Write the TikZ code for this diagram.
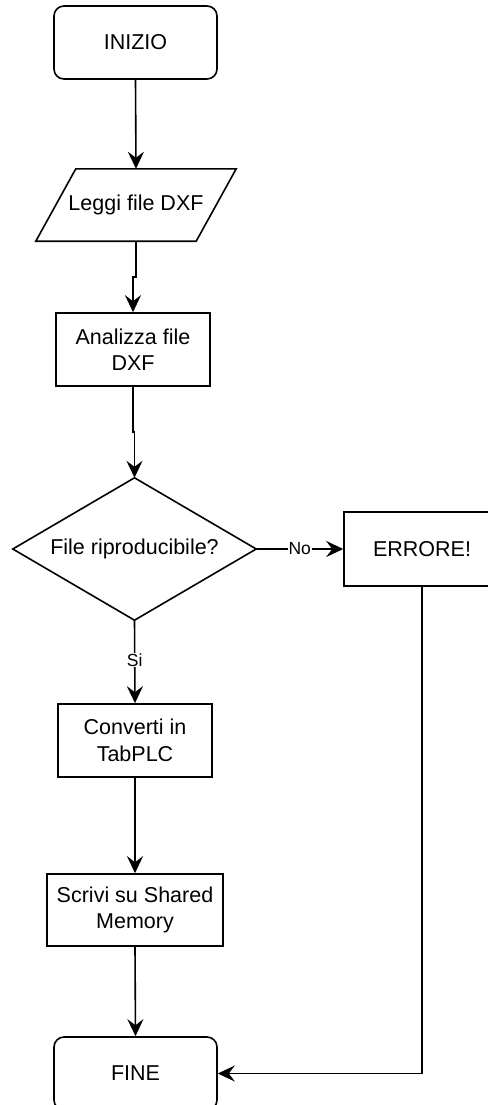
\documentclass[tikz,border=0pt]{standalone}
\usepackage{fontspec}
\setmainfont{Liberation Sans}
\usetikzlibrary{arrows.meta,calc}
\begin{document}
\begin{tikzpicture}[x=1pt,y=-1pt,
  every node/.style={font=\fontsize{21.5}{26.5}\selectfont, align=center, inner sep=0pt},
  box/.style={draw, line width=1.6pt, minimum width=#1, minimum height=73},
  terminal/.style={box=#1, rounded corners=10pt},
  shell/.style={minimum width=#1, minimum height=72},
  flow/.style={line width=1.6pt, -{Stealth[length=17pt,width=16pt,inset=6pt]}},
  edgelabel/.style={fill=white, font=\fontsize{17.5}{20}\selectfont, inner sep=1pt}]
\useasboundingbox (0,0) rectangle (487,1105);

% process steps
\node[terminal=163] (inizio) at (135.5,42.5) {INIZIO};
\node[shell=160] (leggi) at (136,205) {Leggi file DXF};
\draw[line width=1.6pt] ([xshift=20pt]leggi.north west) -- ([xshift=20pt]leggi.north east)
  -- ([xshift=-20pt]leggi.south east) -- ([xshift=-20pt]leggi.south west) -- cycle;
\node[box=154] (analizza) at (133,349.5) {Analizza file\\DXF};
\node[minimum width=243, minimum height=142] (check) at (134.5,549) {File riproducibile?};
\draw[line width=1.6pt] (check.north) -- (check.east) -- (check.south) -- (check.west) -- cycle;
\node[box=156, minimum height=74] (errore) at (422,549) {ERRORE!};
\node[box=154] (converti) at (135,740.5) {Converti in\\TabPLC};
\node[box=176, minimum height=72] (scrivi) at (135,910) {Scrivi su Shared\\Memory};
\node[terminal=163] (fine) at (135.5,1073.5) {FINE};

% connectors
\draw[flow] (inizio.south) -- (leggi.north);
\draw[flow] (leggi.south) -- ++(0,36) -| (analizza.north);
\draw[flow] (analizza.south) -- ++(0,45) -| (check.north);
\draw[flow] (check.east) -- node[edgelabel, pos=0.5] (no) {No} (errore.west);
\draw[flow] (check.south) -- node[edgelabel, pos=0.48] (si) {Si} (converti.north);
\draw[flow] (converti.south) -- (scrivi.north);
\draw[flow] (scrivi.south) -- (fine.north);
\draw[flow] (errore.south) |- (fine.east);
\end{tikzpicture}
\end{document}
